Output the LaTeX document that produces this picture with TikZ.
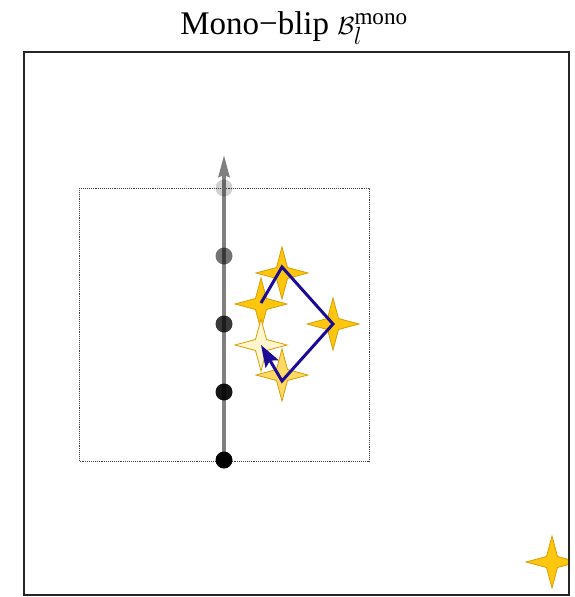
\documentclass[tikz,border=0pt]{standalone}
\usepackage{fontspec}
\setmainfont{Liberation Serif}
\usetikzlibrary{arrows.meta}
\definecolor{gold}{RGB}{255,198,16}
\definecolor{goldedge}{RGB}{214,158,0}
\definecolor{goldlight}{RGB}{255,217,102}
\definecolor{goldpale}{RGB}{255,246,208}
\definecolor{pathblue}{RGB}{28,12,150}
\tikzset{
  spark/.pic={\filldraw[pic actions] (0,-26)--(5.5,-5.5)--(26,0)--(5.5,5.5)--(0,26)--(-5.5,5.5)--(-26,0)--(-5.5,-5.5)--cycle;},
  sparkstyle/.style={fill=gold,draw=goldedge,line width=0.8pt,line join=miter},
  dotstyle/.style={fill=black,draw=none},
  framestyle/.style={draw=black!85,line width=1.5pt},
  dotbox/.style={draw=black!75,densely dotted,line width=0.9pt},
  timeaxis/.style={draw=black!50,line width=3.6pt,-{Stealth[length=22pt,width=11pt,inset=2pt]}},
  walk/.style={draw=pathblue,line width=3pt,line join=miter,-{Stealth[length=22pt,width=15pt,inset=4pt]}}
}
\begin{document}
\begin{tikzpicture}[x=1pt,y=-1pt]
\useasboundingbox (0,0) rectangle (575,597);
% title
\node[anchor=base,inner sep=0pt,font=\fontsize{33}{38}\selectfont] (title) at (294,34) {Mono−blip $\mathcal{B}_l^{\mathrm{mono}}$};
% outer frame
\coordinate (fr1) at (24,52);
\coordinate (fr2) at (569,595);
% dotted box
\draw[dotbox] (79,188) rectangle (369,461);
% time axis
\coordinate (t0) at (224,460);
\coordinate (ttop) at (224,155);
\draw[timeaxis] (t0) -- (ttop);
\fill[dotstyle,opacity=0.18] (224,188) circle (8.5);
\fill[dotstyle,opacity=0.55] (224,256) circle (8.5);
\fill[dotstyle,opacity=0.78] (224,324) circle (8.5);
\fill[dotstyle,opacity=0.92] (224,392) circle (8.5);
\fill[dotstyle] (224,460) circle (8.5);
% sparkles
\path (282,273) pic[sparkstyle] {spark};
\path (261,304) pic[sparkstyle] {spark};
\path (333,324) pic[sparkstyle] {spark};
\path (282,375) pic[sparkstyle,fill=goldlight] {spark};
\path (261,345) pic[sparkstyle,fill=goldpale] {spark};
\begin{scope}
\clip (fr1) rectangle (fr2);
\path (552,562) pic[sparkstyle] {spark};
\end{scope}
% walk
\coordinate (w0) at (261,303);
\coordinate (w1) at (282,267);
\coordinate (w2) at (333,324);
\coordinate (w3) at (282,381);
\coordinate (w4) at (261,345);
\draw[walk] (w0) -- (w1) -- (w2) -- (w3) -- (w4);
\draw[framestyle] (fr1) rectangle (fr2);
\end{tikzpicture}
\end{document}
